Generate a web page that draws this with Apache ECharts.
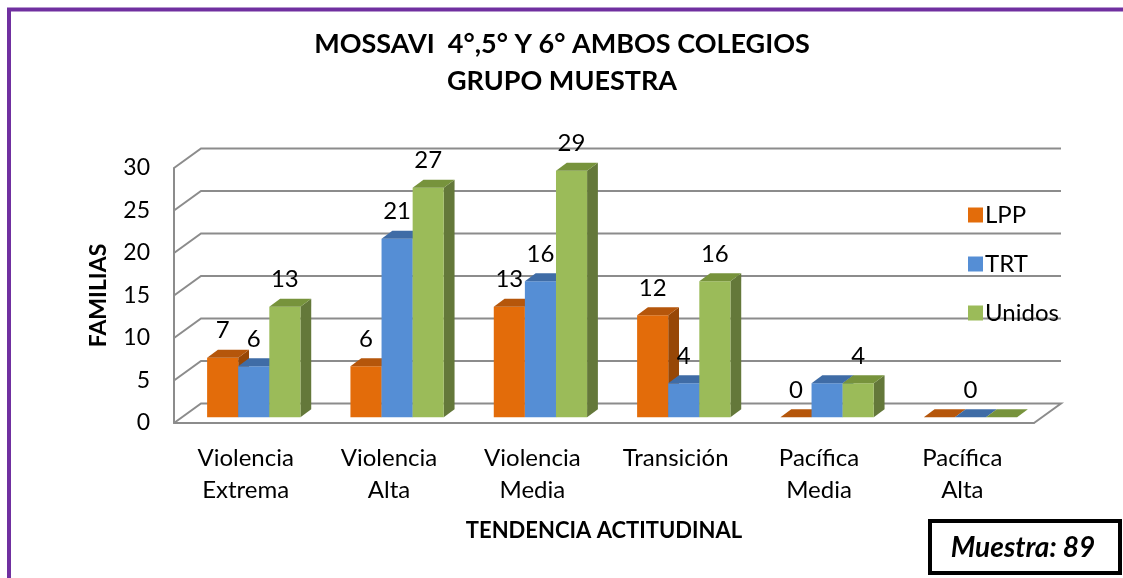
<!DOCTYPE html>
<html>
<head>
  <meta charset="utf-8">
  <title>MOSSAVI grupo muestra</title>
  <script src="https://cdn.jsdelivr.net/npm/echarts@6/dist/echarts.min.js"></script>
  <style>
    html, body { margin: 0; padding: 0; background: #fff; }
    #main { width: 1123px; height: 578px; }
  </style>
</head>
<body>
<div id="main"></div>
<script>
// datos
var categorias = ['Violencia\nExtrema', 'Violencia\nAlta', 'Violencia\nMedia', 'Transición', 'Pacífica\nMedia', 'Pacífica\nAlta'];
var lpp = [7, 6, 13, 12, 0, 0];
var trt = [6, 21, 16, 4, 4, 0];
var unidos = [13, 27, 29, 16, 4, 0];
var ticksY = [0, 5, 10, 15, 20, 25, 30];
// etiquetas visibles en el original (algunas fueron borradas)
var verLpp = [1, 1, 1, 1, 1, 0];
var verTrt = [1, 1, 1, 1, 0, 1];
var verUni = [1, 1, 1, 1, 1, 0];

var chart = echarts.init(document.getElementById('main'));
var FONT = 'Lato, "Noto Sans", sans-serif';
// desplazamiento de profundidad (efecto 3D)
var DX = 27, DY = 19.5;
var GRIS = '#8c8c8c';

// colores: frente, arriba, lado
var colLpp = ['#e36c0a', '#b5560b', '#974706'];
var colTrt = ['#558ed5', '#3f6ca6', '#36608f'];
var colUni = ['#9bbb59', '#77933c', '#64783a'];

function barra(k, colores, ver) {
  return function (params, api) {
    var idx = api.value(0), val = api.value(1);
    var top = api.coord([idx, val]);
    var base = api.coord([idx, 0]);
    var bw = api.size([1, 0])[0];
    var w = bw * 0.217;
    var x0 = top[0] - 1.5 * w + k * w + 0.3 * DX;
    var x1 = x0 + w;
    var yt = top[1] - 0.3 * DY, yb = base[1] - 0.3 * DY;
    var dx = 0.4 * DX, dy = 0.4 * DY;
    var hijos = [
      { type: 'polygon', shape: { points: [[x1, yt], [x1 + dx, yt - dy], [x1 + dx, yb - dy], [x1, yb]] }, style: { fill: colores[2] } },
      { type: 'rect', shape: { x: x0, y: yt, width: w, height: yb - yt }, style: { fill: colores[0] } },
      { type: 'polygon', shape: { points: [[x0, yt], [x0 + dx, yt - dy], [x1 + dx, yt - dy], [x1, yt]] }, style: { fill: colores[1] } }
    ];
    if (ver[idx]) {
      hijos.push({ type: 'text', z2: 10, style: { text: String(val), x: (x0 + x1) / 2, y: yt - 27, align: 'center', verticalAlign: 'middle', font: '24px ' + FONT, fill: '#000' } });
    }
    return { type: 'group', children: hijos };
  };
}

// paredes y lineas de division en perspectiva
function rejilla(params, api) {
  var v = api.value(1);
  var p = api.coord([0, v]);
  var bw = api.size([1, 0])[0];
  var xl = p[0] - bw / 2;
  var xr = xl + bw * categorias.length;
  var pts = [[xl, p[1]], [xl + DX, p[1] - DY], [xr + DX, p[1] - DY]];
  if (v === 0) pts.push([xr, p[1]]);
  return { type: 'polyline', shape: { points: pts }, style: { stroke: GRIS, lineWidth: 2, fill: null } };
}

function pares(arr) {
  return arr.map(function (v, i) { return [i, v]; });
}

var option = {
  animation: false,
  backgroundColor: '#fff',
  title: {
    text: 'MOSSAVI  4°,5° Y 6° AMBOS COLEGIOS\nGRUPO MUESTRA',
    left: 562,
    top: 26,
    padding: 0,
    textAlign: 'center',
    textStyle: { fontFamily: FONT, fontSize: 27, fontWeight: 'bold', color: '#000', lineHeight: 37 }
  },
  legend: {
    data: ['LPP', 'TRT', 'Unidos'],
    orient: 'vertical',
    left: 968,
    top: 202,
    itemWidth: 15,
    itemHeight: 15,
    itemGap: 23,
    icon: 'rect',
    padding: 0,
    textStyle: { fontFamily: FONT, fontSize: 24, color: '#000', lineHeight: 26, padding: [0, 0, 0, -3] }
  },
  grid: { left: 174, right: 89, top: 168, bottom: 155, outerBoundsMode: 'none' },
  xAxis: {
    type: 'category',
    data: categorias,
    name: 'TENDENCIA ACTITUDINAL',
    nameLocation: 'middle',
    nameGap: 97,
    nameTextStyle: { fontFamily: FONT, fontSize: 22, fontWeight: 'bold', color: '#000' },
    axisTick: { show: false },
    axisLine: { lineStyle: { color: GRIS, width: 2 } },
    axisLabel: { fontFamily: FONT, fontSize: 24, lineHeight: 32, margin: 19, color: '#000', interval: 0 }
  },
  yAxis: {
    type: 'value',
    min: 0,
    max: 30,
    interval: 5,
    name: 'FAMILIAS',
    nameLocation: 'middle',
    nameRotate: 90,
    nameGap: 64,
    nameTextStyle: { fontFamily: FONT, fontSize: 23, fontWeight: 'bold', color: '#000' },
    axisLine: { show: true, lineStyle: { color: GRIS, width: 2 } },
    axisTick: { show: false },
    splitLine: { show: false },
    axisLabel: { fontFamily: FONT, fontSize: 23, margin: 24, color: '#000' }
  },
  series: [
    { type: 'custom', name: 'grid3d', silent: true, z: 1, renderItem: rejilla, data: ticksY.map(function (v) { return [0, v]; }) },
    { type: 'custom', name: 'LPP', z: 2, itemStyle: { color: colLpp[0] }, renderItem: barra(0, colLpp, verLpp), data: pares(lpp) },
    { type: 'custom', name: 'TRT', z: 3, itemStyle: { color: colTrt[0] }, renderItem: barra(1, colTrt, verTrt), data: pares(trt) },
    { type: 'custom', name: 'Unidos', z: 4, itemStyle: { color: colUni[0] }, renderItem: barra(2, colUni, verUni), data: pares(unidos) }
  ],
  graphic: [
    { type: 'rect', shape: { x: 9, y: 9.5, width: 1300, height: 700 }, style: { fill: null, stroke: '#7030a0', lineWidth: 4 }, silent: true },
    { type: 'rect', shape: { x: 930, y: 521, width: 190, height: 52 }, style: { fill: '#fff', stroke: '#000', lineWidth: 4 } },
    { type: 'text', x: 1023, y: 548, style: { text: 'Muestra: 89', align: 'center', verticalAlign: 'middle', font: 'italic bold 28px ' + FONT, fill: '#000' } }
  ]
};

chart.setOption(option);
</script>
</body>
</html>
